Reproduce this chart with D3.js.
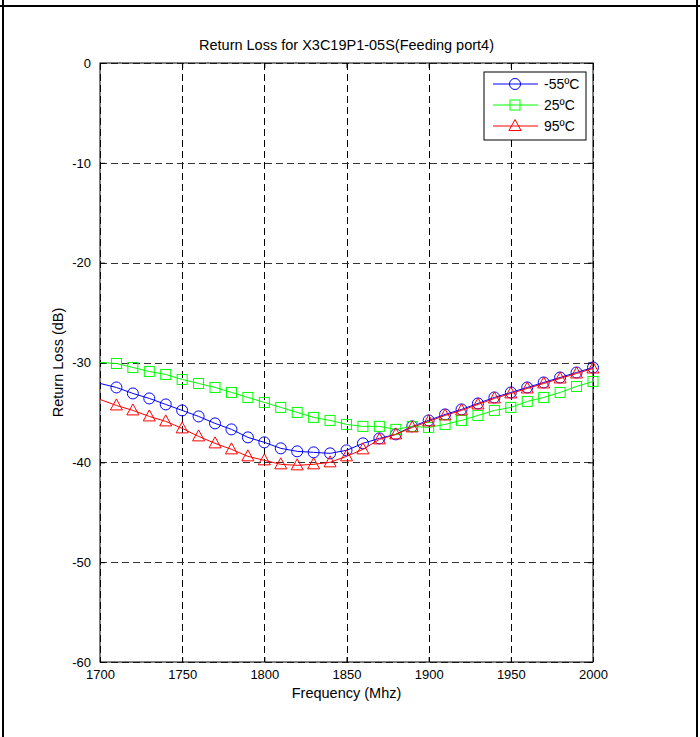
<!DOCTYPE html>
<html>
<head>
<meta charset="utf-8">
<script src="https://cdn.jsdelivr.net/npm/d3@7/dist/d3.min.js"></script>
<style>
	body { margin: 0; background: #fff; }
	text { font-family: 'Liberation Sans', Arial, sans-serif; }
</style>
</head>
<body>
<svg></svg>
<script>

// Sample frequencies (MHz)
var freqs = [1700, 1710, 1720, 1730, 1740, 1750, 1760, 1770, 1780, 1790,
	1800, 1810, 1820, 1830, 1840, 1850, 1860, 1870, 1880, 1890,
	1900, 1910, 1920, 1930, 1940, 1950, 1960, 1970, 1980, 1990, 2000];

// return loss (dB), one list per temperature
var rlMinus55 = [-32.1, -32.5, -33.1, -33.6, -34.2, -34.8, -35.4, -36.1, -36.7, -37.5,
	-38.0, -38.6, -38.9, -39.0, -39.1, -38.8, -38.1, -37.6, -37.2, -36.4,
	-35.8, -35.2, -34.7, -34.1, -33.5, -33.0, -32.5, -32.0, -31.5, -31.0, -30.5];
var rl25 = [-30.0, -30.1, -30.5, -30.9, -31.2, -31.7, -32.1, -32.5, -33.0, -33.5,
	-34.0, -34.5, -35.0, -35.5, -35.8, -36.2, -36.4, -36.4, -36.7, -36.4,
	-36.5, -36.2, -35.8, -35.3, -34.8, -34.5, -33.9, -33.5, -33.0, -32.4, -31.9];
var rl95 = [-33.7, -34.3, -34.8, -35.4, -35.9, -36.6, -37.4, -38.1, -38.7, -39.4,
	-39.8, -40.2, -40.3, -40.2, -40.0, -39.4, -38.7, -37.7, -37.2, -36.5,
	-35.9, -35.3, -34.8, -34.2, -33.6, -33.1, -32.6, -32.1, -31.6, -31.1, -30.6];

var seriesNames = ['-55ºC', '25ºC', '95ºC'];
var xTicks = [1700, 1750, 1800, 1850, 1900, 1950, 2000];
var yTicks = [0, -10, -20, -30, -40, -50, -60];

var CONF = {
	width: 700,
	height: 737,
	left: 100,
	right: 593,
	top: 63,
	bottom: 662,
	tick: 5
};

function drawChart() {
	var svg = d3.select('svg')
		.attr('width', CONF.width)
		.attr('height', CONF.height);

	// page frame (table cell borders around the figure)
	svg.append('line')
		.attr('x1', 0).attr('x2', CONF.width)
		.attr('y1', 6).attr('y2', 6)
		.style('stroke', '#000').style('stroke-width', 2);
	[3, 697].forEach(function(x) {
		svg.append('line')
			.attr('x1', x).attr('x2', x)
			.attr('y1', 0).attr('y2', CONF.height)
			.style('stroke', '#000').style('stroke-width', 2);
	});

	var x = d3.scaleLinear().domain([1700, 2000]).range([CONF.left, CONF.right]);
	var y = d3.scaleLinear().domain([-60, 0]).range([CONF.bottom, CONF.top]);

	// dashed grid
	var grid = svg.append('g').style('shape-rendering', 'crispEdges');
	grid.selectAll('line.vg')
		.data(xTicks)
		.enter()
		.append('line')
			.attr('class', 'vg')
			.attr('x1', function(d) { return Math.round(x(d)) + 0.5; })
			.attr('x2', function(d) { return Math.round(x(d)) + 0.5; })
			.attr('y1', CONF.top).attr('y2', CONF.bottom)
			.style('stroke', '#000')
			.style('stroke-dasharray', '7,4');
	grid.selectAll('line.hg')
		.data(yTicks)
		.enter()
		.append('line')
			.attr('class', 'hg')
			.attr('x1', CONF.left).attr('x2', CONF.right)
			.attr('y1', function(d) { return Math.round(y(d)) + 0.5; })
			.attr('y2', function(d) { return Math.round(y(d)) + 0.5; })
			.style('stroke', '#333')
			.style('stroke-dasharray', '7,4');

	// plain hyphen minus, like the original
	var fmt = function(d) { return String(d); };

	// axes: ticks point inward on all four sides
	var axB = svg.append('g')
		.attr('transform', 'translate(0,' + CONF.bottom + ')')
		.call(d3.axisBottom(x).tickValues(xTicks).tickSize(-CONF.tick).tickPadding(8).tickFormat(fmt));
	var axT = svg.append('g')
		.attr('transform', 'translate(0,' + CONF.top + ')')
		.call(d3.axisTop(x).tickValues(xTicks).tickSize(-CONF.tick).tickFormat(''));
	var axL = svg.append('g')
		.attr('transform', 'translate(' + CONF.left + ',0)')
		.call(d3.axisLeft(y).tickValues(yTicks).tickSize(-CONF.tick).tickPadding(9).tickFormat(fmt));
	var axR = svg.append('g')
		.attr('transform', 'translate(' + CONF.right + ',0)')
		.call(d3.axisRight(y).tickValues(yTicks).tickSize(-CONF.tick).tickFormat(''));

	[axB, axT, axL, axR].forEach(function(g) {
		g.select('.domain').remove();
		g.selectAll('line').style('stroke', '#000');
		g.selectAll('text')
			.style('font-family', "'Liberation Sans', Arial, sans-serif")
			.style('font-size', '13px')
			.style('fill', '#000');
	});

	svg.append('rect')
		.attr('x', CONF.left).attr('y', CONF.top)
		.attr('width', CONF.right - CONF.left)
		.attr('height', CONF.bottom - CONF.top)
		.style('fill', 'none')
		.style('stroke', '#000');

	// the series
	var series = [
		{name: seriesNames[0], values: rlMinus55, color: '#0000ff', marker: 'circle'},
		{name: seriesNames[1], values: rl25, color: '#00ff00', marker: 'square'},
		{name: seriesNames[2], values: rl95, color: '#ff0000', marker: 'triangle'}
	];

	var line = d3.line()
		.x(function(d) { return x(d[0]); })
		.y(function(d) { return y(d[1]); });

	function addMarker(g, type, color) {
		if(type == 'circle') {
			g.append('circle').attr('r', 5.5);
		} else if(type == 'square') {
			g.append('rect').attr('x', -5).attr('y', -5).attr('width', 10).attr('height', 10);
		} else {
			g.append('path').attr('d', 'M0,-6.5L6,4.5L-6,4.5Z');
		}
		g.selectAll('*')
			.style('fill', 'none')
			.style('stroke', color)
			.style('stroke-width', 1);
	}

	series.forEach(function(s) {
		var pts = freqs.map(function(f, i) { return [f, s.values[i]]; });
		svg.append('path')
			.attr('d', line(pts))
			.style('fill', 'none')
			.style('stroke', s.color)
			.style('stroke-width', 1);

		// markers start at the second sample, like the original figure
		svg.selectAll(null)
			.data(pts.slice(1))
			.enter()
			.append('g')
				.attr('transform', function(d) {
					return 'translate(' + x(d[0]) + ',' + y(d[1]) + ')';
				})
				.each(function() { addMarker(d3.select(this), s.marker, s.color); });
	});

	// legend
	var leg = svg.append('g').attr('transform', 'translate(484,72)');
	leg.append('rect')
		.attr('width', 102).attr('height', 68)
		.style('fill', '#fff')
		.style('stroke', '#000');
	series.forEach(function(s, i) {
		var row = leg.append('g').attr('transform', 'translate(0,' + (12 + i * 21) + ')');
		row.append('line')
			.attr('x1', 9).attr('x2', 54)
			.style('stroke', s.color);
		addMarker(row.append('g').attr('transform', 'translate(31,0)'), s.marker, s.color);
		row.append('text')
			.attr('x', 60).attr('y', 5)
			.style('font-size', '14px')
			.text(s.name);
	});

	// labels
	svg.append('text')
		.attr('x', (CONF.left + CONF.right) / 2)
		.attr('y', 50)
		.attr('text-anchor', 'middle')
		.style('font-size', '14.5px')
		.text('Return Loss for X3C19P1-05S(Feeding port4)');

	svg.append('text')
		.attr('x', (CONF.left + CONF.right) / 2)
		.attr('y', 698)
		.attr('text-anchor', 'middle')
		.style('font-size', '14.5px')
		.text('Frequency (Mhz)');

	svg.append('text')
		.attr('transform', 'translate(63,' + (CONF.top + CONF.bottom) / 2 + ') rotate(-90)')
		.attr('text-anchor', 'middle')
		.style('font-size', '14.5px')
		.text('Return Loss (dB)');
}

drawChart();
</script>
</body>
</html>
